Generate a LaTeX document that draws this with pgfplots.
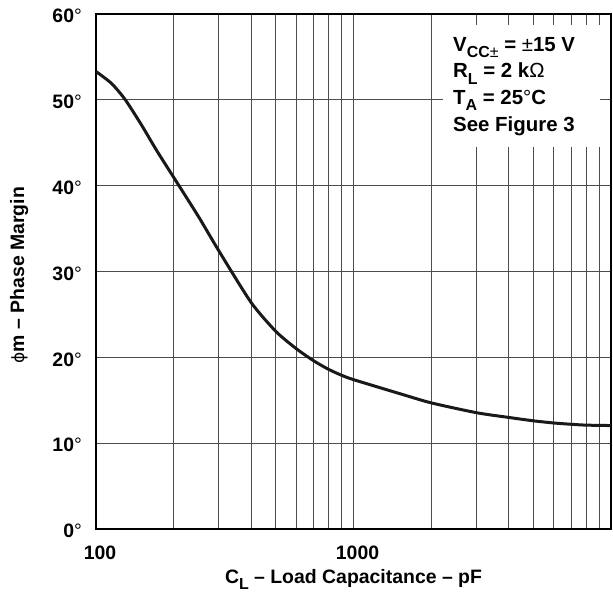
\documentclass[border=0pt]{standalone}
\usepackage{pgfplots}
\pgfplotsset{compat=1.18}
\usepackage{fontspec}
\setmainfont{Liberation Sans}
\newfontfamily\djv{DejaVu Sans}
\newcommand\sub[1]{\raisebox{-0.32em}{\fontsize{16}{16}\selectfont #1}}
\newcommand\dg{{\mdseries °}}
\begin{document}
\fontsize{19.5}{23}\selectfont\bfseries
\begin{tikzpicture}
\begin{axis}[
  scale only axis, width=515bp, height=515bp,
  xmode=log, xmin=100, xmax=10000, ymin=0, ymax=60,
  log basis x=10,
  xtick={100,1000}, xticklabels={100,1000},
  minor xtick={200,300,400,500,600,700,800,900,2000,3000,4000,5000,6000,7000,8000,9000},
  ytick={0,10,20,30,40,50,60},
  yticklabels={0\dg,10\dg,20\dg,30\dg,40\dg,50\dg,60\dg},
  grid=both,
  major grid style={line width=1bp, black!70},
  minor grid style={line width=1bp, black!70},
  major tick length=0pt, minor tick length=0pt,
  axis line style={line width=2.4bp},
  every tick label/.append style={font=\fontsize{19.5}{23}\selectfont\bfseries},
  xticklabel style={yshift=-10.5bp, xshift=4bp},
  yticklabel style={xshift=-7.5bp, yshift=-2bp},
  every axis x label/.style={at={(axis description cs:0.5,-0.105)}, anchor=base},
  every axis y label/.style={at={(axis description cs:-0.149,0.493)}, rotate=90, anchor=center},
  xlabel={C\sub{L} – Load Capacitance – pF},
  ylabel={{\djv\mdseries\fontsize{17}{20}\selectfont ϕ}m – Phase Margin},
  label style={font=\fontsize{19.5}{23}\selectfont\bfseries},
]
\addplot[line width=3bp, black!90, smooth, tension=0.4] coordinates {
(100,53.3) (115,51.9) (130,50.0) (150,47.1) (172,44.1) (200,41.0) (250,36.4)
(300,32.4) (400,26.4) (500,23.0) (600,21.0) (700,19.6) (800,18.6)
(900,17.9) (1000,17.4) (1500,15.8) (2000,14.7) (3000,13.55) (4000,13.0)
(5000,12.6) (6000,12.35) (7000,12.2) (8000,12.1) (10000,12.05)
};
\fill[white] (rel axis cs:0.674,0.9786) rectangle (rel axis cs:0.9786,0.7417);
\node[anchor=north west, align=left, inner sep=0pt,
      font=\fontsize{20.5}{26.7}\selectfont\bfseries]
  at (rel axis cs:0.6932,0.9553)
  {V\sub{CC{\mdseries ±}} = {\mdseries ±}15 V\\
   R\sub{L} = 2 k{\mdseries Ω}\\
   T\sub{A} = 25\dg C\\
   See Figure 3};
\end{axis}
\pgfresetboundingbox
\path[use as bounding box] (current axis.south west) ++(-96bp,-64bp) rectangle ([shift={(2bp,14bp)}]current axis.north east);
\end{tikzpicture}
\end{document}
